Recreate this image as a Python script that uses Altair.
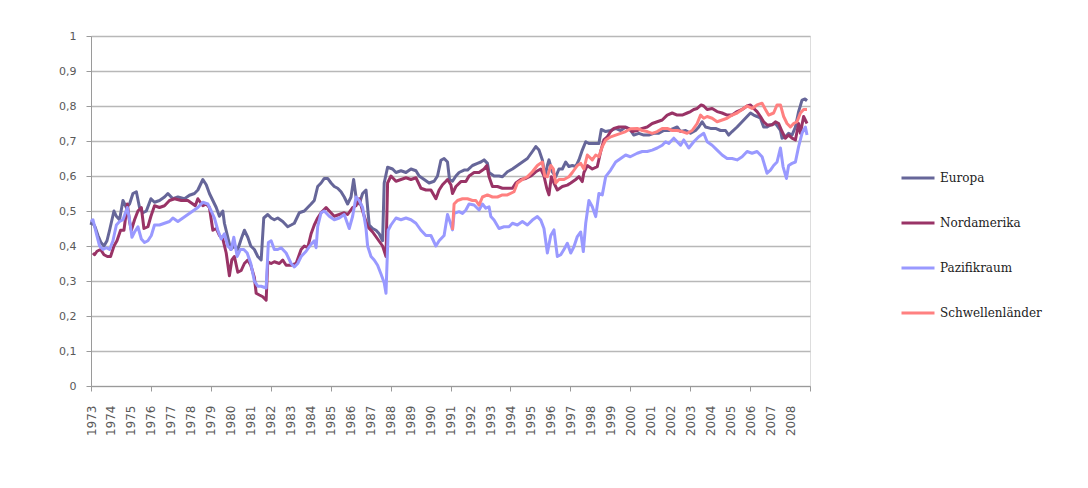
import altair as alt
import pandas as pd

series_names = ["Europa", "Nordamerika", "Pazifikraum", "Schwellenländer"]
series_colors = ["#666699", "#993366", "#9999FF", "#FF8080"]

europa_years = [1973.0, 1973.05, 1973.2, 1973.35, 1973.5, 1973.65, 1973.8, 1973.93, 1974.15, 1974.27, 1974.43, 1974.6, 1974.77, 1974.93,
    1975.1, 1975.27, 1975.43, 1975.6, 1975.77, 1976.0, 1976.18, 1976.43, 1976.68, 1976.85, 1977.1, 1977.35, 1977.68, 1977.93,
    1978.18, 1978.35, 1978.6, 1978.77, 1978.93, 1979.1, 1979.27, 1979.43, 1979.6, 1979.68, 1979.85, 1980.0, 1980.18, 1980.35,
    1980.52, 1980.68, 1980.85, 1981.0, 1981.18, 1981.35, 1981.52, 1981.65, 1981.85, 1982.02, 1982.18, 1982.35, 1982.6, 1982.85,
    1983.02, 1983.18, 1983.43, 1983.68, 1983.85, 1984.02, 1984.18, 1984.35, 1984.52, 1984.68, 1984.85, 1985.02, 1985.18, 1985.35,
    1985.52, 1985.68, 1985.85, 1986.02, 1986.15, 1986.27, 1986.43, 1986.6, 1986.77, 1986.93, 1987.1, 1987.27, 1987.43, 1987.6,
    1987.68, 1987.85, 1988.1, 1988.27, 1988.52, 1988.77, 1989.02, 1989.27, 1989.43, 1989.68, 1989.93, 1990.18, 1990.35, 1990.52,
    1990.68, 1990.85, 1990.95, 1991.1, 1991.27, 1991.43, 1991.68, 1991.85, 1992.1, 1992.35, 1992.52, 1992.68, 1992.85, 1992.93,
    1993.18, 1993.43, 1993.6, 1993.85, 1994.1, 1994.35, 1994.6, 1994.85, 1995.1, 1995.27, 1995.43, 1995.6, 1995.73, 1995.85,
    1995.93, 1996.1, 1996.27, 1996.43, 1996.6, 1996.77, 1996.93, 1997.1, 1997.27, 1997.43, 1997.6, 1997.77, 1997.93, 1998.18,
    1998.43, 1998.55, 1998.77, 1999.02, 1999.27, 1999.52, 1999.77, 2000.02, 2000.18, 2000.43, 2000.68, 2000.93, 2001.18, 2001.43,
    2001.68, 2001.93, 2002.18, 2002.35, 2002.52, 2002.77, 2003.02, 2003.27, 2003.43, 2003.6, 2003.77, 2004.02, 2004.27, 2004.52,
    2004.77, 2004.93, 2005.1, 2005.35, 2005.6, 2005.85, 2006.02, 2006.18, 2006.35, 2006.52, 2006.68, 2006.85, 2007.02, 2007.27,
    2007.52, 2007.6, 2007.77, 2007.93, 2008.1, 2008.27, 2008.43, 2008.6, 2008.75, 2008.85]
europa_values = [0.46, 0.47, 0.455, 0.43, 0.41, 0.40, 0.415, 0.445, 0.50, 0.485, 0.475, 0.53, 0.51, 0.52,
    0.55, 0.555, 0.51, 0.495, 0.50, 0.535, 0.525, 0.53, 0.54, 0.55, 0.535, 0.54, 0.535, 0.545,
    0.55, 0.56, 0.59, 0.575, 0.55, 0.53, 0.51, 0.485, 0.50, 0.465, 0.425, 0.39, 0.40, 0.39,
    0.42, 0.445, 0.425, 0.40, 0.39, 0.37, 0.36, 0.48, 0.49, 0.48, 0.475, 0.48, 0.47, 0.455,
    0.46, 0.465, 0.495, 0.50, 0.51, 0.52, 0.53, 0.57, 0.58, 0.593, 0.593, 0.58, 0.57, 0.565,
    0.555, 0.54, 0.52, 0.54, 0.59, 0.54, 0.52, 0.55, 0.56, 0.46, 0.45, 0.445, 0.435, 0.415,
    0.58, 0.625, 0.62, 0.61, 0.615, 0.61, 0.62, 0.615, 0.60, 0.59, 0.58, 0.585, 0.60, 0.645,
    0.65, 0.64, 0.59, 0.585, 0.60, 0.61, 0.617, 0.617, 0.63, 0.636, 0.64, 0.646, 0.636, 0.61,
    0.60, 0.60, 0.598, 0.612, 0.62, 0.63, 0.64, 0.65, 0.67, 0.684, 0.674, 0.646, 0.598, 0.63,
    0.646, 0.612, 0.598, 0.62, 0.62, 0.64, 0.627, 0.63, 0.627, 0.646, 0.674, 0.698, 0.693, 0.693,
    0.693, 0.733, 0.727, 0.73, 0.736, 0.73, 0.74, 0.73, 0.717, 0.722, 0.717, 0.717, 0.722, 0.722,
    0.73, 0.73, 0.736, 0.74, 0.727, 0.73, 0.722, 0.73, 0.74, 0.755, 0.74, 0.736, 0.736, 0.73,
    0.73, 0.717, 0.727, 0.74, 0.755, 0.77, 0.78, 0.774, 0.77, 0.765, 0.74, 0.74, 0.746, 0.75,
    0.73, 0.708, 0.712, 0.722, 0.717, 0.74, 0.784, 0.817, 0.82, 0.815]

nordamerika_years = [1973.1, 1973.18, 1973.3, 1973.48, 1973.65, 1973.82, 1973.98, 1974.15, 1974.3, 1974.48, 1974.65, 1974.82, 1974.93,
    1975.02, 1975.18, 1975.35, 1975.52, 1975.65, 1975.85, 1976.0, 1976.18, 1976.43, 1976.68, 1976.93, 1977.18, 1977.52, 1977.85,
    1978.1, 1978.22, 1978.35, 1978.6, 1978.77, 1978.93, 1979.1, 1979.27, 1979.43, 1979.6, 1979.77, 1979.93, 1980.05, 1980.18,
    1980.35, 1980.52, 1980.68, 1980.85, 1981.0, 1981.18, 1981.27, 1981.43, 1981.6, 1981.77, 1981.85, 1982.02, 1982.18, 1982.43,
    1982.6, 1982.77, 1983.02, 1983.27, 1983.52, 1983.68, 1983.85, 1984.02, 1984.18, 1984.35, 1984.52, 1984.77, 1984.93, 1985.18,
    1985.43, 1985.68, 1985.85, 1986.1, 1986.27, 1986.43, 1986.6, 1986.85, 1987.1, 1987.35, 1987.6, 1987.77, 1987.85, 1988.02,
    1988.27, 1988.52, 1988.77, 1989.02, 1989.27, 1989.52, 1989.77, 1990.02, 1990.27, 1990.43, 1990.6, 1990.77, 1990.85, 1991.02,
    1991.1, 1991.27, 1991.52, 1991.77, 1991.93, 1992.18, 1992.43, 1992.68, 1992.82, 1992.93, 1993.1, 1993.35, 1993.6, 1993.85,
    1994.1, 1994.27, 1994.52, 1994.77, 1995.02, 1995.27, 1995.52, 1995.68, 1995.82, 1995.93, 1996.05, 1996.18, 1996.35, 1996.6,
    1996.85, 1997.02, 1997.27, 1997.43, 1997.6, 1997.68, 1997.85, 1998.1, 1998.35, 1998.52, 1998.68, 1998.85, 1999.02, 1999.18,
    1999.43, 1999.68, 1999.93, 2000.1, 2000.35, 2000.6, 2000.85, 2001.1, 2001.35, 2001.6, 2001.85, 2002.1, 2002.35, 2002.6,
    2002.85, 2003.02, 2003.18, 2003.35, 2003.55, 2003.68, 2003.85, 2004.1, 2004.35, 2004.6, 2004.85, 2005.1, 2005.35, 2005.6,
    2005.85, 2006.02, 2006.18, 2006.35, 2006.52, 2006.68, 2006.85, 2007.1, 2007.27, 2007.43, 2007.6, 2007.77, 2007.93, 2008.1,
    2008.27, 2008.43, 2008.52, 2008.68, 2008.85]
nordamerika_values = [0.38, 0.375, 0.385, 0.39, 0.375, 0.37, 0.37, 0.40, 0.415, 0.445, 0.445, 0.52, 0.47,
    0.445, 0.475, 0.50, 0.51, 0.45, 0.455, 0.485, 0.515, 0.51, 0.515, 0.53, 0.535, 0.53, 0.53,
    0.52, 0.515, 0.535, 0.515, 0.52, 0.51, 0.445, 0.45, 0.43, 0.42, 0.38, 0.315, 0.36, 0.37,
    0.325, 0.33, 0.35, 0.36, 0.345, 0.31, 0.265, 0.26, 0.255, 0.245, 0.355, 0.35, 0.355, 0.35,
    0.36, 0.345, 0.345, 0.35, 0.39, 0.40, 0.395, 0.435, 0.46, 0.48, 0.495, 0.51, 0.50, 0.485,
    0.49, 0.495, 0.49, 0.51, 0.515, 0.535, 0.50, 0.455, 0.44, 0.42, 0.40, 0.37, 0.58, 0.60,
    0.585, 0.59, 0.595, 0.59, 0.595, 0.565, 0.56, 0.56, 0.535, 0.56, 0.575, 0.585, 0.59, 0.575,
    0.55, 0.57, 0.584, 0.584, 0.60, 0.61, 0.61, 0.62, 0.63, 0.598, 0.57, 0.57, 0.565, 0.565,
    0.565, 0.58, 0.59, 0.593, 0.60, 0.612, 0.62, 0.60, 0.565, 0.546, 0.598, 0.58, 0.56, 0.57,
    0.574, 0.58, 0.59, 0.598, 0.584, 0.61, 0.63, 0.62, 0.627, 0.67, 0.703, 0.712, 0.727, 0.736,
    0.74, 0.74, 0.736, 0.727, 0.73, 0.736, 0.74, 0.75, 0.755, 0.76, 0.774, 0.78, 0.774, 0.774,
    0.78, 0.784, 0.79, 0.793, 0.803, 0.80, 0.79, 0.793, 0.784, 0.78, 0.774, 0.774, 0.784, 0.79,
    0.80, 0.803, 0.793, 0.784, 0.77, 0.755, 0.746, 0.746, 0.755, 0.75, 0.727, 0.708, 0.717, 0.708,
    0.703, 0.75, 0.722, 0.77, 0.75]

pazifik_years = [1973.0, 1973.1, 1973.27, 1973.43, 1973.6, 1973.77, 1973.93, 1974.1, 1974.27, 1974.43, 1974.6, 1974.82, 1974.93,
    1975.05, 1975.18, 1975.35, 1975.52, 1975.68, 1975.85, 1976.02, 1976.18, 1976.43, 1976.68, 1976.93, 1977.1, 1977.35, 1977.6,
    1977.85, 1978.1, 1978.35, 1978.6, 1978.85, 1979.02, 1979.18, 1979.35, 1979.52, 1979.68, 1979.85, 1980.02, 1980.15, 1980.32,
    1980.48, 1980.65, 1980.82, 1981.0, 1981.18, 1981.35, 1981.52, 1981.77, 1981.88, 1982.02, 1982.18, 1982.35, 1982.52, 1982.77,
    1983.02, 1983.18, 1983.35, 1983.52, 1983.77, 1984.02, 1984.18, 1984.27, 1984.35, 1984.52, 1984.68, 1984.93, 1985.18, 1985.43,
    1985.68, 1985.93, 1986.1, 1986.27, 1986.43, 1986.6, 1986.77, 1986.85, 1987.02, 1987.18, 1987.35, 1987.52, 1987.68, 1987.77,
    1987.88, 1988.02, 1988.27, 1988.52, 1988.77, 1989.02, 1989.27, 1989.52, 1989.77, 1990.02, 1990.27, 1990.43, 1990.68, 1990.85,
    1991.0, 1991.1, 1991.18, 1991.43, 1991.6, 1991.77, 1991.93, 1992.18, 1992.43, 1992.6, 1992.77, 1992.93, 1993.02, 1993.18,
    1993.43, 1993.68, 1993.93, 1994.1, 1994.35, 1994.6, 1994.85, 1995.1, 1995.35, 1995.52, 1995.68, 1995.85, 1996.02, 1996.18,
    1996.35, 1996.52, 1996.68, 1996.85, 1997.02, 1997.18, 1997.35, 1997.52, 1997.65, 1997.77, 1997.93, 1998.1, 1998.27, 1998.43,
    1998.6, 1998.77, 1999.02, 1999.27, 1999.52, 1999.77, 2000.0, 2000.35, 2000.6, 2000.85, 2001.1, 2001.35, 2001.6, 2001.77,
    2001.93, 2002.18, 2002.35, 2002.52, 2002.68, 2002.93, 2003.18, 2003.43, 2003.68, 2003.85, 2004.1, 2004.35, 2004.6, 2004.85,
    2005.1, 2005.35, 2005.6, 2005.85, 2006.1, 2006.35, 2006.6, 2006.85, 2007.02, 2007.18, 2007.35, 2007.52, 2007.65, 2007.82,
    2007.93, 2008.1, 2008.27, 2008.43, 2008.6, 2008.77, 2008.85]
pazifik_values = [0.47, 0.475, 0.435, 0.40, 0.39, 0.395, 0.39, 0.415, 0.46, 0.47, 0.475, 0.51, 0.475,
    0.425, 0.44, 0.455, 0.42, 0.41, 0.415, 0.43, 0.46, 0.46, 0.465, 0.47, 0.48, 0.47, 0.48,
    0.49, 0.50, 0.51, 0.525, 0.52, 0.50, 0.48, 0.445, 0.42, 0.435, 0.40, 0.39, 0.425, 0.37,
    0.39, 0.39, 0.38, 0.35, 0.30, 0.285, 0.285, 0.28, 0.41, 0.415, 0.39, 0.39, 0.395, 0.38,
    0.35, 0.34, 0.35, 0.37, 0.385, 0.405, 0.415, 0.395, 0.455, 0.495, 0.50, 0.485, 0.475, 0.48,
    0.49, 0.45, 0.485, 0.54, 0.53, 0.51, 0.45, 0.40, 0.37, 0.36, 0.345, 0.32, 0.295, 0.265,
    0.445, 0.46, 0.48, 0.475, 0.48, 0.475, 0.465, 0.445, 0.43, 0.43, 0.40, 0.415, 0.43, 0.49,
    0.465, 0.446, 0.493, 0.498, 0.493, 0.503, 0.52, 0.517, 0.503, 0.52, 0.508, 0.512, 0.484, 0.474,
    0.45, 0.455, 0.455, 0.465, 0.46, 0.47, 0.46, 0.474, 0.484, 0.474, 0.45, 0.38, 0.43, 0.446,
    0.37, 0.375, 0.39, 0.408, 0.38, 0.398, 0.427, 0.44, 0.384, 0.465, 0.53, 0.512, 0.484, 0.55,
    0.546, 0.598, 0.617, 0.64, 0.65, 0.66, 0.655, 0.665, 0.67, 0.67, 0.674, 0.68, 0.688, 0.698,
    0.693, 0.708, 0.698, 0.688, 0.703, 0.68, 0.698, 0.712, 0.722, 0.698, 0.688, 0.674, 0.66, 0.65,
    0.65, 0.646, 0.655, 0.67, 0.665, 0.67, 0.655, 0.608, 0.617, 0.63, 0.64, 0.68, 0.627, 0.593,
    0.63, 0.636, 0.64, 0.684, 0.722, 0.74, 0.717]

schwellen_years = [1991.1, 1991.18, 1991.35, 1991.6, 1991.85, 1992.1, 1992.27, 1992.43, 1992.6, 1992.85, 1993.1, 1993.35, 1993.6,
    1993.85, 1994.18, 1994.35, 1994.6, 1994.85, 1995.1, 1995.35, 1995.6, 1995.72, 1995.85, 1996.02, 1996.15, 1996.27, 1996.43,
    1996.68, 1996.93, 1997.1, 1997.35, 1997.52, 1997.68, 1997.85, 1998.1, 1998.27, 1998.43, 1998.6, 1998.77, 1999.02, 1999.27,
    1999.52, 1999.77, 2000.02, 2000.35, 2000.6, 2000.85, 2001.1, 2001.35, 2001.6, 2001.85, 2002.1, 2002.35, 2002.6, 2002.85,
    2003.1, 2003.35, 2003.52, 2003.68, 2003.85, 2004.1, 2004.35, 2004.6, 2004.85, 2005.1, 2005.35, 2005.6, 2005.85, 2006.1,
    2006.35, 2006.6, 2006.77, 2006.93, 2007.18, 2007.35, 2007.52, 2007.68, 2007.85, 2008.02, 2008.18, 2008.35, 2008.52, 2008.68,
    2008.85]
schwellen_values = [0.446, 0.52, 0.53, 0.535, 0.535, 0.53, 0.53, 0.517, 0.54, 0.546, 0.54, 0.54, 0.546,
    0.546, 0.555, 0.58, 0.59, 0.598, 0.612, 0.63, 0.64, 0.60, 0.598, 0.63, 0.62, 0.58, 0.59,
    0.59, 0.598, 0.61, 0.63, 0.636, 0.62, 0.66, 0.646, 0.66, 0.655, 0.684, 0.703, 0.712, 0.717,
    0.722, 0.727, 0.735, 0.736, 0.73, 0.727, 0.722, 0.727, 0.736, 0.736, 0.73, 0.73, 0.727, 0.722,
    0.73, 0.75, 0.774, 0.765, 0.77, 0.765, 0.755, 0.76, 0.765, 0.774, 0.78, 0.79, 0.80, 0.793,
    0.803, 0.808, 0.79, 0.774, 0.78, 0.803, 0.803, 0.77, 0.75, 0.74, 0.75, 0.755, 0.78, 0.79,
    0.79]

year_labels = list(range(1973, 2010))
y_ticks = [0, 0.1, 0.2, 0.3, 0.4, 0.5, 0.6, 0.7, 0.8, 0.9, 1.0]

rows = []
for name, ys, vs in [("Europa", europa_years, europa_values),
                     ("Nordamerika", nordamerika_years, nordamerika_values),
                     ("Pazifikraum", pazifik_years, pazifik_values),
                     ("Schwellenländer", schwellen_years, schwellen_values)]:
    for y, v in zip(ys, vs):
        rows.append({"series": name, "year": y, "value": v})
df = pd.DataFrame(rows)

axis_font = "DejaVu Sans"
label_color = "#595959"

chart = alt.Chart(df).mark_line(strokeWidth=3, strokeJoin="round").encode(
    x=alt.X("year:Q",
            scale=alt.Scale(domain=[1973, 2009], nice=False, zero=False),
            axis=alt.Axis(values=year_labels, title=None, grid=False,
                          labelAngle=270, labelAlign="right", labelBaseline="middle",
                          labelExpr="datum.value == 2009 ? '' : '' + datum.value",
                          labelPadding=14, labelFont=axis_font, labelFontSize=12,
                          labelColor=label_color, labelOverlap=False, labelFlush=False,
                          tickSize=5, tickColor="#9a9a9a", domainColor="#9a9a9a",
                          tickOpacity={"condition": {"test": "(datum.value - 1973) % 3 == 0", "value": 1}, "value": 0})),
    y=alt.Y("value:Q",
            scale=alt.Scale(domain=[0, 1], nice=False),
            axis=alt.Axis(values=y_ticks, title=None, grid=True, gridColor="#b8b8b8", gridWidth=1.5,
                          labelExpr="replace(format(datum.value, '.1~f'), '.', ',')",
                          labelFont=axis_font, labelFontSize=11, labelColor=label_color,
                          labelPadding=10, tickSize=5, tickColor="#9a9a9a", domainColor="#9a9a9a")),
    color=alt.Color("series:N",
                    scale=alt.Scale(domain=series_names, range=series_colors),
                    legend=alt.Legend(title=None, orient="none", legendX=809, legendY=124,
                                      symbolType="stroke", symbolSize=1089, symbolStrokeWidth=3,
                                      rowPadding=21, labelOffset=4, padding=0,
                                      labelFont="DejaVu Serif", labelFontSize=12, labelColor="#222222")),
).properties(
    width=719, height=350,
    autosize=alt.AutoSizeParams(type="none"),
    padding={"left": 83, "top": 28, "right": 268, "bottom": 92},
).configure_view(stroke=None).configure(background="white")

chart.save("out.html", embed_options={"renderer": "svg", "actions": False})
